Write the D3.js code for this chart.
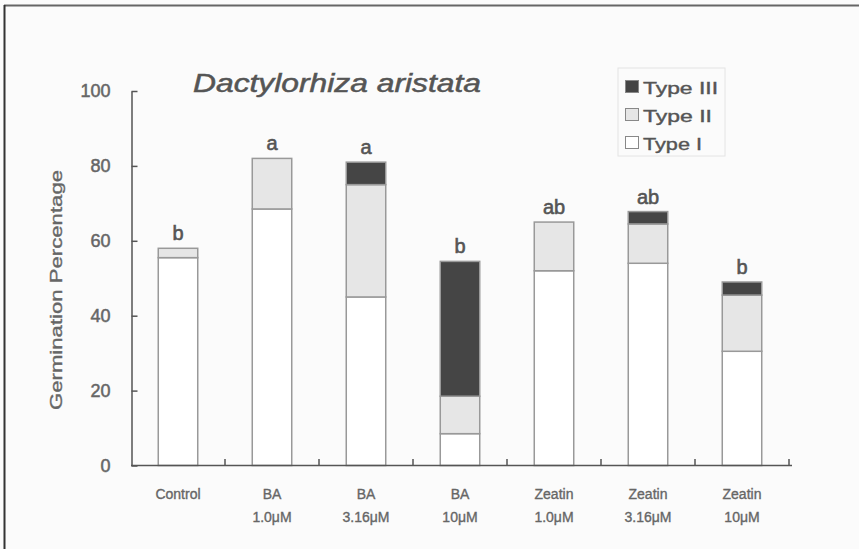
<!DOCTYPE html>
<html>
<head>
<meta charset="utf-8">
<script src="https://cdn.jsdelivr.net/npm/d3@7"></script>
<style>
  body { margin: 0; background: #fbfbfb; }
  svg { display: block; }
</style>
</head>
<body>
<div id="chart"></div>
<script>
// data
var treatments = ["Control", "BA 1.0", "BA 3.16", "BA 10", "Zeatin 1.0", "Zeatin 3.16", "Zeatin 10"];
var labelLine1 = ["Control", "BA", "BA", "BA", "Zeatin", "Zeatin", "Zeatin"];
var labelLine2 = ["", "1.0\u03bcM", "3.16\u03bcM", "10\u03bcM", "1.0\u03bcM", "3.16\u03bcM", "10\u03bcM"];
var typeI   = [55.5, 68.5, 45, 8.5, 52, 54, 30.5];
var typeII  = [2.5, 13.5, 30, 10, 13, 10.5, 15];
var typeIII = [0, 0, 6, 36, 0, 3.3, 3.5];
var letters = ["b", "a", "a", "b", "ab", "ab", "b"];
var yTicks = [0, 20, 40, 60, 80, 100];

var W = 859, H = 549;
var FONT = "Liberation Sans, Arial, sans-serif";
var svg = d3.select("#chart").append("svg")
    .attr("width", W).attr("height", H);

// frame (top + left edge as in the scan)
svg.append("rect").attr("width", W).attr("height", H).attr("fill", "#fbfbfb");
svg.append("line").attr("x1", 4).attr("x2", W).attr("y1", 5.5).attr("y2", 5.5)
  .attr("stroke", "#666").attr("stroke-width", 2);
svg.append("line").attr("x1", 4.5).attr("x2", 4.5).attr("y1", 5).attr("y2", H)
  .attr("stroke", "#333").attr("stroke-width", 2);

var x = d3.scaleBand().domain(treatments).range([131, 789]).paddingInner(0.58).paddingOuter(0.29);
var y = d3.scaleLinear().domain([0, 100]).range([465.5, 91]);

var rows = treatments.map(function(t, i) {
  return { t: t, I: typeI[i], II: typeII[i], III: typeIII[i] };
});
var stack = d3.stack().keys(["I", "II", "III"])(rows);
var fills = { I: "#ffffff", II: "#e6e6e6", III: "#454545" };

var g = svg.append("g");
stack.forEach(function(layer) {
  g.selectAll(null).data(layer.filter(function(d) { return d[1] > d[0]; }))
    .enter().append("rect")
      .attr("x", function(d) { return x(d.data.t); })
      .attr("width", x.bandwidth())
      .attr("y", function(d) { return y(d[1]); })
      .attr("height", function(d) { return y(d[0]) - y(d[1]); })
      .attr("fill", fills[layer.key])
      .attr("stroke", "#999").attr("stroke-width", 1.5);
});

// significance letters
g.selectAll(null).data(rows).enter().append("text")
  .attr("x", function(d) { return x(d.t) + x.bandwidth() / 2; })
  .attr("y", function(d) { return y(d.I + d.II + d.III) - 8; })
  .attr("text-anchor", "middle")
  .attr("font-family", FONT)
  .attr("font-size", 20).attr("fill", "#555")
  .attr("stroke", "#555").attr("stroke-width", 0.6)
  .text(function(d, i) { return letters[i]; });

// y axis
var yAxis = d3.axisLeft(y).tickValues(yTicks).tickSizeInner(-6).tickSizeOuter(0).tickPadding(21);
var ya = svg.append("g").attr("transform", "translate(131.5,0)").call(yAxis);
ya.select(".domain").attr("stroke", "#555").attr("stroke-width", 1.5);
ya.selectAll(".tick line").attr("stroke", "#555").attr("stroke-width", 1.5);
ya.selectAll("text").attr("font-family", FONT)
  .attr("font-size", 18).attr("fill", "#666")
  .attr("stroke", "#666").attr("stroke-width", 0.5);

// x axis line with ticks between categories
var xa = svg.append("g");
xa.append("line").attr("x1", 131).attr("x2", 792).attr("y1", 465.5).attr("y2", 465.5)
  .attr("stroke", "#555").attr("stroke-width", 1.5);
var bounds = treatments.map(function(t) { return x(t) - x.step() * x.paddingInner() / 2; }).slice(1);
bounds.push(x(treatments[6]) + x.bandwidth() + x.step() * x.paddingInner() / 2);
xa.selectAll(null).data(bounds).enter().append("line")
  .attr("x1", function(d) { return d; }).attr("x2", function(d) { return d; })
  .attr("y1", 465.5).attr("y2", 459)
  .attr("stroke", "#555").attr("stroke-width", 1.5);

var lab = xa.selectAll(null).data(treatments).enter().append("text")
  .attr("x", function(d) { return x(d) + x.bandwidth() / 2; })
  .attr("text-anchor", "middle")
  .attr("font-family", FONT)
  .attr("font-size", 14).attr("fill", "#666")
  .attr("stroke", "#666").attr("stroke-width", 0.35);
lab.append("tspan").attr("x", function(d) { return x(d) + x.bandwidth() / 2; })
  .attr("y", 499).text(function(d, i) { return labelLine1[i]; });
lab.append("tspan").attr("x", function(d) { return x(d) + x.bandwidth() / 2; })
  .attr("y", 522).text(function(d, i) { return labelLine2[i]; });

// axis title
svg.append("text")
  .attr("transform", "translate(62,290) rotate(-90)")
  .attr("text-anchor", "middle")
  .attr("font-family", FONT)
  .attr("font-size", 17).attr("fill", "#666")
  .attr("stroke", "#666").attr("stroke-width", 0.35)
  .attr("textLength", 240).attr("lengthAdjust", "spacingAndGlyphs")
  .text("Germination Percentage");

// title
svg.append("text")
  .attr("x", 193).attr("y", 92)
  .attr("font-family", FONT)
  .attr("font-size", 25).attr("font-style", "italic").attr("fill", "#555")
  .attr("stroke", "#555").attr("stroke-width", 0.5)
  .attr("textLength", 288).attr("lengthAdjust", "spacingAndGlyphs")
  .text("Dactylorhiza aristata");

// legend
var legKeys = ["III", "II", "I"];
var legNames = ["Type III", "Type II", "Type I"];
var legWidths = [75, 69, 59];
var leg = svg.append("g");
leg.append("rect").attr("x", 618).attr("y", 68).attr("width", 107).attr("height", 88)
  .attr("fill", "#fbfbfb").attr("stroke", "#e4e4e4");
legKeys.forEach(function(k, i) {
  var cy = 87 + i * 28;
  leg.append("rect").attr("x", 625.5).attr("y", cy - 6.5).attr("width", 13).attr("height", 12)
    .attr("fill", fills[k]).attr("stroke", "#888");
  leg.append("text").attr("x", 643).attr("y", cy + 6.5)
    .attr("font-family", FONT)
    .attr("font-size", 17).attr("fill", "#555")
    .attr("stroke", "#555").attr("stroke-width", 0.4)
    .attr("textLength", legWidths[i]).attr("lengthAdjust", "spacingAndGlyphs")
    .text(legNames[i]);
});
</script>
</body>
</html>
